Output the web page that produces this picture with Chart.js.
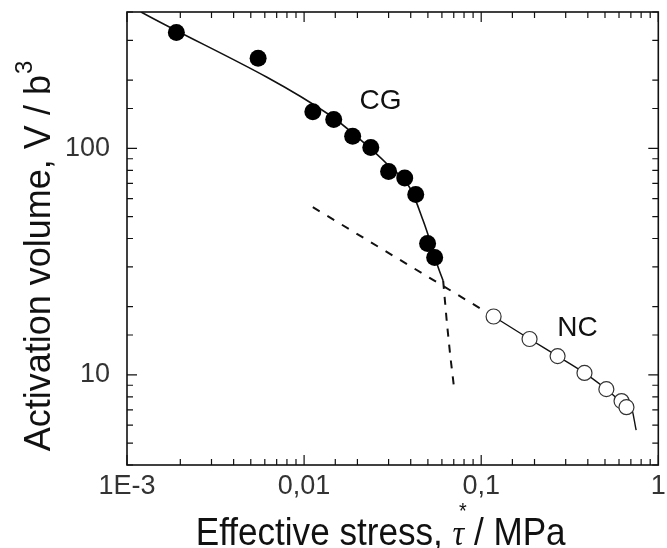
<!DOCTYPE html>
<html>
<head>
<meta charset="utf-8">
<script src="https://cdn.jsdelivr.net/npm/chart.js@4.4.1/dist/chart.umd.min.js"></script>
<style>
  html, body { margin: 0; padding: 0; background: #fff; }
</style>
</head>
<body>
<canvas id="grafico" width="667" height="548"></canvas>
<script>
// PONTOS CG (cheios)
const cgStress = [0.0019, 0.0055, 0.0112, 0.0147, 0.0188, 0.0238, 0.030, 0.037, 0.0427, 0.0498, 0.0546];
const cgVolume = [325, 250, 145, 134, 113, 101, 79, 74, 62.5, 38, 33];

// PONTOS NC (vazios)
const ncStress = [0.1175, 0.1875, 0.270, 0.383, 0.509, 0.620, 0.661];
const ncVolume = [18.1, 14.4, 12.1, 10.2, 8.65, 7.66, 7.2];

// CURVAS
const cgFitX = [0.0012, 0.014, 0.02, 0.03, 0.04, 0.047, 0.052, 0.057, 0.061];
const cgFitY = [400, 140, 112, 84, 66, 48, 38, 30, 26];
const cgDashX = [0.061, 0.064, 0.067, 0.07];
const cgDashY = [26, 17, 12, 9];
const ncDashX = [0.0112, 0.1175];
const ncDashY = [55, 18.1];
const ncFitX = [0.1175, 0.1875, 0.27, 0.383, 0.509, 0.62, 0.70, 0.75];
const ncFitY = [18.1, 14.4, 12.1, 10.2, 8.65, 7.66, 7.3, 5.7];

// EIXOS
const xTickValues = [0.001, 0.01, 0.1, 1];
const xTickLabels = ["1E-3", "0,01", "0,1", "1"];
const yTickValues = [10, 100];
const yTickLabels = ["10", "100"];

// ROTULOS
const annotTexts = ["CG", "NC"];
const annotX = [0.027, 0.35];
const annotY = [162, 16];

function pares(xs, ys) {
  let out = [];
  for (let i = 0; i < xs.length; i++) out.push({ x: xs[i], y: ys[i] });
  return out;
}

function rotuloTick(valores, rotulos, v) {
  for (let i = 0; i < valores.length; i++) {
    if (Math.abs(Math.log10(v) - Math.log10(valores[i])) < 1e-6) return rotulos[i];
  }
  return "";
}

const FONTE = '"Liberation Sans", Arial, sans-serif';

// moldura, ticks para dentro, titulos e rotulos CG / NC
const moldura = {
  id: "moldura",
  afterDraw(chart) {
    const ctx = chart.ctx;
    const a = chart.chartArea;
    const sx = chart.scales.x;
    const sy = chart.scales.y;
    ctx.save();
    ctx.strokeStyle = "#111";
    ctx.lineWidth = 1.2;
    ctx.beginPath();
    sx.ticks.forEach(function (t) {
      const p = sx.getPixelForValue(t.value);
      const len = rotuloTick(xTickValues, xTickLabels, t.value) ? 10 : 6;
      ctx.moveTo(p, a.bottom); ctx.lineTo(p, a.bottom - len);
      ctx.moveTo(p, a.top); ctx.lineTo(p, a.top + len);
    });
    sy.ticks.forEach(function (t) {
      const p = sy.getPixelForValue(t.value);
      const len = rotuloTick(yTickValues, yTickLabels, t.value) ? 10 : 6;
      ctx.moveTo(a.left, p); ctx.lineTo(a.left + len, p);
      ctx.moveTo(a.right, p); ctx.lineTo(a.right - len, p);
    });
    ctx.stroke();
    ctx.lineWidth = 1.6;
    ctx.strokeRect(a.left, a.top, a.right - a.left, a.bottom - a.top);

    // CG / NC
    ctx.fillStyle = "#111";
    ctx.font = "28px " + FONTE;
    ctx.textAlign = "center";
    ctx.textBaseline = "middle";
    for (let i = 0; i < annotTexts.length; i++) {
      ctx.fillText(annotTexts[i], sx.getPixelForValue(annotX[i]), sy.getPixelForValue(annotY[i]));
    }

    // TITULO X
    ctx.textAlign = "left";
    ctx.textBaseline = "alphabetic";
    const f1 = "39px " + FONTE;
    const f2 = 'italic 36px "Liberation Serif", serif';
    const f3 = "22px " + FONTE;
    ctx.font = f1;
    const w1 = ctx.measureText("Effective stress, ").width;
    const w3 = ctx.measureText(" / MPa").width;
    ctx.font = f2;
    const w2 = ctx.measureText("\u03c4").width;
    const total = w1 + w2 + w3;
    ctx.save();
    ctx.translate((a.left + a.right) / 2 - 12, chart.height - 3);
    ctx.scale(0.9, 1);
    let x0 = -total / 2;
    ctx.font = f1;
    ctx.fillText("Effective stress, ", x0, 0);
    ctx.font = f2;
    ctx.fillText("\u03c4", x0 + w1, 0);
    ctx.font = f3;
    ctx.fillText("*", x0 + w1 + w2 * 0.55, -27);
    ctx.font = f1;
    ctx.fillText(" / MPa", x0 + w1 + w2, 0);
    ctx.restore();

    // TITULO Y
    ctx.save();
    ctx.translate(50, (a.top + a.bottom) / 2 + 18);
    ctx.rotate(-Math.PI / 2);
    const g1 = "36px " + FONTE;
    const g2 = "24px " + FONTE;
    ctx.font = g1;
    const v1 = ctx.measureText("Activation volume, V / b").width;
    ctx.font = g2;
    const v2 = ctx.measureText("3").width;
    let y0 = -(v1 + v2) / 2;
    ctx.font = g1;
    ctx.fillText("Activation volume, V / b", y0, 0);
    ctx.font = g2;
    ctx.fillText("3", y0 + v1 + 1, -18);
    ctx.restore();

    ctx.restore();
  },
};

const grafico = new Chart(document.getElementById("grafico"), {
  type: "scatter",
  data: {
    datasets: [
      {
        label: "CG",
        data: pares(cgStress, cgVolume),
        backgroundColor: "#000",
        borderColor: "#000",
        pointRadius: 8.5,
        pointBorderWidth: 0,
        showLine: false,
        order: 1,
      },
      {
        label: "NC",
        data: pares(ncStress, ncVolume),
        backgroundColor: "#fff",
        borderColor: "#333",
        pointRadius: 7.5,
        pointBorderWidth: 1.2,
        showLine: false,
        order: 1,
      },
      {
        label: "ajuste CG",
        data: pares(cgFitX, cgFitY),
        borderColor: "#111",
        borderWidth: 1.6,
        pointRadius: 0,
        showLine: true,
        cubicInterpolationMode: "monotone",
        order: 2,
      },
      {
        label: "extensao CG",
        data: pares(cgDashX, cgDashY),
        borderColor: "#111",
        borderWidth: 2,
        borderDash: [8, 8],
        pointRadius: 0,
        showLine: true,
        order: 2,
      },
      {
        label: "extensao NC",
        data: pares(ncDashX, ncDashY),
        borderColor: "#111",
        borderWidth: 2,
        borderDash: [8, 9],
        pointRadius: 0,
        showLine: true,
        order: 2,
      },
      {
        label: "ajuste NC",
        data: pares(ncFitX, ncFitY),
        borderColor: "#111",
        borderWidth: 1.4,
        pointRadius: 0,
        showLine: true,
        cubicInterpolationMode: "monotone",
        order: 2,
      },
    ],
  },
  options: {
    responsive: false,
    animation: false,
    layout: { padding: { left: 0, right: 8, top: 12, bottom: 0 } },
    plugins: {
      legend: { display: false },
      tooltip: { enabled: false },
    },
    scales: {
      x: {
        type: "logarithmic",
        min: 0.001,
        max: 1,
        grid: { display: false, drawTicks: false },
        border: { display: false },
        ticks: {
          autoSkip: false,
          maxRotation: 0,
          padding: 5,
          color: "#333",
          font: { family: FONTE, size: 27 },
          callback: function (v) {
            return rotuloTick(xTickValues, xTickLabels, v);
          },
        },
        afterFit: function (s) {
          s.height = 83;
          s.paddingLeft = 0;
          s.paddingRight = 0;
        },
      },
      y: {
        type: "logarithmic",
        min: 4,
        max: 400,
        grid: { display: false, drawTicks: false },
        border: { display: false },
        ticks: {
          autoSkip: false,
          padding: 17,
          color: "#333",
          font: { family: FONTE, size: 27 },
          callback: function (v) {
            return rotuloTick(yTickValues, yTickLabels, v);
          },
        },
        afterFit: function (s) {
          s.width = 127;
          s.paddingTop = 0;
          s.paddingBottom = 0;
        },
      },
    },
  },
  plugins: [moldura],
});
</script>
</body>
</html>
